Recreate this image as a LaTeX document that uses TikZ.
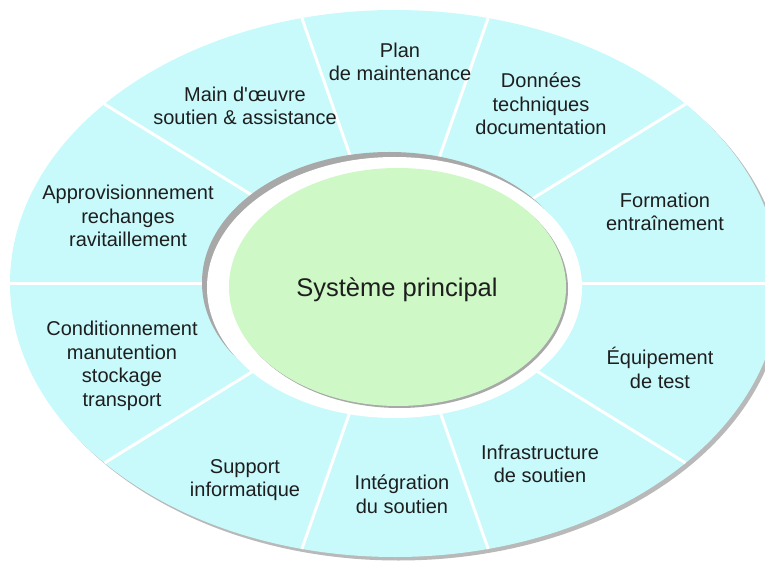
\documentclass[tikz,border=0pt]{standalone}
\usepackage{fontspec}
\setmainfont[Ligatures=TeXOff]{Liberation Sans}

\definecolor{ringcyan}{RGB}{200,250,252}
\definecolor{coregreen}{RGB}{206,248,198}
\definecolor{rimgray}{RGB}{168,168,168}
\definecolor{labeltext}{RGB}{30,30,30}

\begin{document}
\begin{tikzpicture}[x=1pt,y=1pt,
		sectortext/.style={align=center,text=labeltext,inner sep=0pt,font=\fontsize{20}{23.5}\selectfont},
		divider/.style={draw=white,line width=3pt}]
	\clip (0,0) rectangle (765,560);
	\coordinate (c) at (395,276.5);
	\fill[rimgray!80] (398.5,273) ellipse [x radius=385, y radius=273.5];
	\fill[ringcyan] (c) ellipse [x radius=385, y radius=273.5];
	\foreach \a in {0,41,76,104,139,180,221,256,284,319}
		\draw[divider] (c) -- ++(\a:385 and 273.5);
	\fill[rimgray] (389.5,277.5) ellipse [x radius=187.5, y radius=130.5];
	\fill[white] (394.5,272.5) ellipse [x radius=187.5, y radius=130.5];
	\fill[rimgray] (399.5,271) ellipse [x radius=168.5, y radius=119];
	\fill[coregreen] (397.5,273) ellipse [x radius=168.5, y radius=119];
	\node[text=labeltext,font=\fontsize{25.5}{30}\selectfont] (systeme) at (397,270) {Système principal};
	\node[sectortext] (plan) at (400,498) {Plan\\de maintenance};
	\node[sectortext] (maindoeuvre) at (245,454) {Main d'œuvre\\soutien \& assistance};
	\node[sectortext] (donnees) at (541,456) {Données\\techniques\\documentation};
	\node[sectortext] (formation) at (665,348) {Formation\\entraînement};
	\node[sectortext] (appro) at (128,344) {Approvisionnement\\rechanges\\ravitaillement};
	\node[sectortext] (condition) at (122,194) {Conditionnement\\manutention\\stockage\\transport};
	\node[sectortext] (equipement) at (660,192) {Équipement\\de test};
	\node[sectortext] (support) at (245,80) {Support\\informatique};
	\node[sectortext] (integration) at (402,66) {Intégration\\du soutien};
	\node[sectortext] (infra) at (540,96) {Infrastructure\\de soutien};
\end{tikzpicture}
\end{document}
